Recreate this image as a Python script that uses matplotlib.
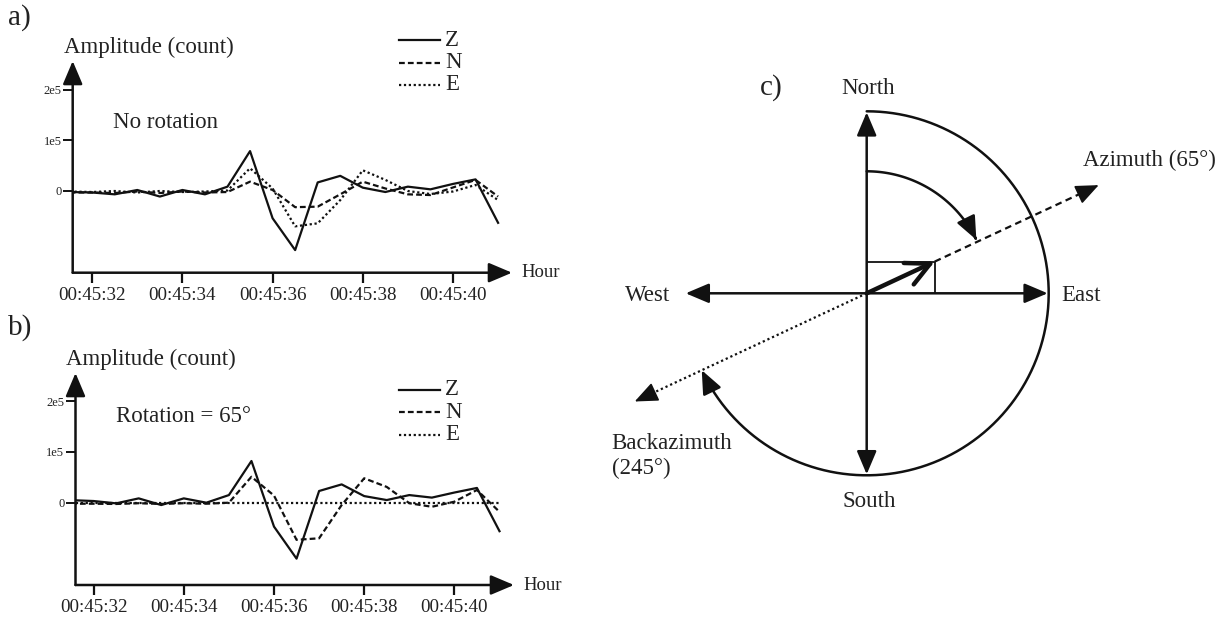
import numpy as np
import matplotlib
matplotlib.use('Agg')
import matplotlib.pyplot as plt
from matplotlib.lines import Line2D
from matplotlib.patches import FancyArrowPatch
from matplotlib.path import Path

plt.rcParams['font.family'] = 'Liberation Serif'

W, H = 1230, 621
INK = '#111111'
TXT = '#222222'

# seconds after 00:45:00
t_sec = [31.5, 32.0, 32.5, 33.0, 33.5, 34.0, 34.5, 35.0, 35.5, 36.0,
         36.5, 37.0, 37.5, 38.0, 38.5, 39.0, 39.5, 40.0, 40.5, 41.0]
tick_sec = [32, 34, 36, 38, 40]
tick_labels = ['00:45:32', '00:45:34', '00:45:36', '00:45:38', '00:45:40']
amp_ticks = [0, 1e5, 2e5]
amp_labels = ['0', '1e5', '2e5']

# a) raw components
z_raw = [-2000, -3000, -6600, 2000, -11000, 2000, -6600, 8600, 79000, -54000,
         -117000, 17000, 30000, 6600, -2000, 8600, 3300, 14000, 23000, -63000]
n_raw = [-3000, -3000, -4000, -1000, -4000, -1000, -3000, -2000, 18500, 2000,
         -32000, -31000, -6600, 18500, 5000, -6600, -8000, 7000, 22000, -11000]
e_raw = [-1000, -2000, 0, -3000, 0, -2000, -1000, 1000, 45000, 5000,
         -70000, -64000, -18000, 41000, 22000, 0, -6000, -1000, 12000, -18000]

# b) rotated by 65 degrees
z_rot = [5000, 3300, -1300, 8500, -4600, 8500, 0, 15000, 82000, -47000,
         -110000, 23000, 36000, 13000, 5200, 15000, 10000, 20000, 29000, -56000]
n_rot = [-2000, -2000, -2500, -1000, -2500, -1000, -2000, 0, 51000, 14000,
         -73000, -70000, -4600, 48000, 31000, -1000, -8000, 2000, 25000, -18000]
e_rot = [0, 0, 0, 0, 0, 0, 0, 0, 0, 0,
         0, 0, 0, 0, 0, 0, 0, 0, 0, 0]

components = ['Z', 'N', 'E']
styles = ['-', (0, (2.6, 1.4)), (0, (1.0, 1.2))]

fig = plt.figure(figsize=(W / 100, H / 100), dpi=100)


def px_axes(x0, y0, x1, y1):
    # pixel box measured from the top-left corner
    return fig.add_axes([x0 / W, 1 - y1 / H, (x1 - x0) / W, (y1 - y0) / H])


def ftext(x, y, s, **kw):
    kw.setdefault('color', TXT)
    fig.text(x / W, 1 - y / H, s, **kw)


def trace_panel(box, x36, zero_y, per_1e5, series, tag, tag_y, note, note_xy, leg_y):
    x0, y_top, x1, y_bot = box
    pps = 45.1
    ax = px_axes(x0, y_top, x1, y_bot)
    ax.set_xlim(36 + (x0 - x36) / pps, 36 + (x1 - x36) / pps)
    ax.set_ylim(-(y_bot - zero_y) / per_1e5 * 1e5, (zero_y - y_top) / per_1e5 * 1e5)
    for sp in ax.spines.values():
        sp.set_visible(False)
    ax.patch.set_alpha(0)

    for vals, ls in zip(series, styles):
        ax.plot(t_sec, vals, color=INK, lw=1.6, ls=ls)

    ax.set_xticks(tick_sec, tick_labels)
    ax.set_yticks(amp_ticks, amp_labels)
    ax.tick_params(axis='x', direction='out', length=7, width=1.6, pad=3,
                   labelsize=13.7, colors=INK, labelcolor=TXT)
    ax.tick_params(axis='y', direction='out', length=7, width=1.4, pad=1,
                   labelsize=9, colors=INK, labelcolor=TXT)

    head = dict(arrowstyle='-|>,head_length=1.3,head_width=0.55', color=INK,
                lw=1.8, shrinkA=0, shrinkB=0, mutation_scale=11)
    ax.annotate('', xy=(1, 0), xytext=(0, 0), xycoords='axes fraction',
                arrowprops=head, annotation_clip=False)
    ax.annotate('', xy=(0, 1), xytext=(0, 0), xycoords='axes fraction',
                arrowprops=head, annotation_clip=False)

    ftext(x0 - 9, y_top - 14, 'Amplitude (count)', fontsize=16.5, va='center')
    ftext(x1 + 9, y_bot, 'Hour', fontsize=13.5, va='center')
    ftext(8, tag_y, tag, fontsize=21, va='center')
    ftext(note_xy[0], note_xy[1], note, fontsize=16.5, va='center')

    for i, (name, ls) in enumerate(zip(components, styles)):
        yy = leg_y + i * 22.5
        fig.add_artist(Line2D([399 / W, 440 / W], [1 - yy / H, 1 - yy / H],
                              color=INK, lw=1.6, ls=ls))
        ftext(445, yy, name, fontsize=16.5, va='center')
    return ax


trace_panel((72.7, 61, 512, 272.7), 272.6, 191, 50.5,
            [z_raw, n_raw, e_raw], 'a)', 18, 'No rotation', (113, 122), 40)
trace_panel((75.5, 373, 514, 585), 274.0, 502.7, 50.85,
            [z_rot, n_rot, e_rot], 'b)', 328, 'Rotation = 65°', (116, 417), 389.5)

# c) compass sketch, data units are pixels with the origin at the centre
cx, cy = 866.7, 293.3
axc = px_axes(600, 60, 1230, 520)
axc.set_xlim(600 - cx, 1230 - cx)
axc.set_ylim(cy - 520, cy - 60)
axc.axis('off')

azimuth = 65
backazimuth = 245
R = 181
HEAD = '-|>,head_length=1.3,head_width=0.55'


def pol(r, bearing):
    b = np.radians(bearing)
    return (r * np.sin(b), r * np.cos(b))


def arrow(p0, p1, style=HEAD, lw=1.8, ms=11):
    axc.add_patch(FancyArrowPatch(p0, p1, arrowstyle=style, mutation_scale=ms,
                                  color=INK, lw=lw, shrinkA=0, shrinkB=0,
                                  clip_on=False))


def styled_ray(r0, r1, bearing, ls):
    # patterned shaft with a solid head on the end
    p0, p1 = pol(r0, bearing), pol(r1 - 12, bearing)
    axc.plot([p0[0], p1[0]], [p0[1], p1[1]], color=INK, lw=1.6, ls=ls)
    arrow(pol(r1 - 20, bearing), pol(r1, bearing), lw=1.2)


def arc_arrow(r, b0, b1, lw=1.8):
    bb = np.linspace(b0, b1, 120)
    verts = np.column_stack([r * np.sin(np.radians(bb)), r * np.cos(np.radians(bb))])
    axc.add_patch(FancyArrowPatch(path=Path(verts), arrowstyle=HEAD,
                                  mutation_scale=11, color=INK, lw=lw,
                                  clip_on=False))


for b in (0, 90, 180, 270):
    arrow((0, 0), pol(R, b))

# outer arc from north round to the backazimuth
arc_arrow(182, 0, backazimuth)
# inner arc from north to the azimuth
arc_arrow(122, 0, azimuth - 1)

# azimuth (dashed) and backazimuth (dotted) directions
r_bold = 75
styled_ray(r_bold, 256, azimuth, (0, (3, 2)))
styled_ray(0, 256, backazimuth, (0, (1, 1.3)))

# component box under the bold arrow
bx, by = pol(r_bold, azimuth)
axc.plot([0, bx, bx], [by, by, 0], color=INK, lw=1.3, solid_joinstyle='miter')
arrow((0, 0), (bx, by), style='->,head_length=1.7,head_width=0.85', lw=3.2, ms=10)

ctext = dict(fontsize=16.5, color=TXT)
axc.text(1.6, 205, 'North', ha='center', va='center', **ctext)
axc.text(2.6, -208.4, 'South', ha='center', va='center', **ctext)
axc.text(195, -1.7, 'East', ha='left', va='center', **ctext)
axc.text(-196.7, -1.7, 'West', ha='right', va='center', **ctext)
axc.text(216, 133.3, 'Azimuth (65°)', ha='left', va='center', **ctext)
axc.text(-255, -150, 'Backazimuth', ha='left', va='center', **ctext)
axc.text(-255, -175, '(245°)', ha='left', va='center', **ctext)
ftext(771.7, 88, 'c)', fontsize=21, ha='center', va='center')

fig.savefig('out.png', dpi=100, facecolor='white')
